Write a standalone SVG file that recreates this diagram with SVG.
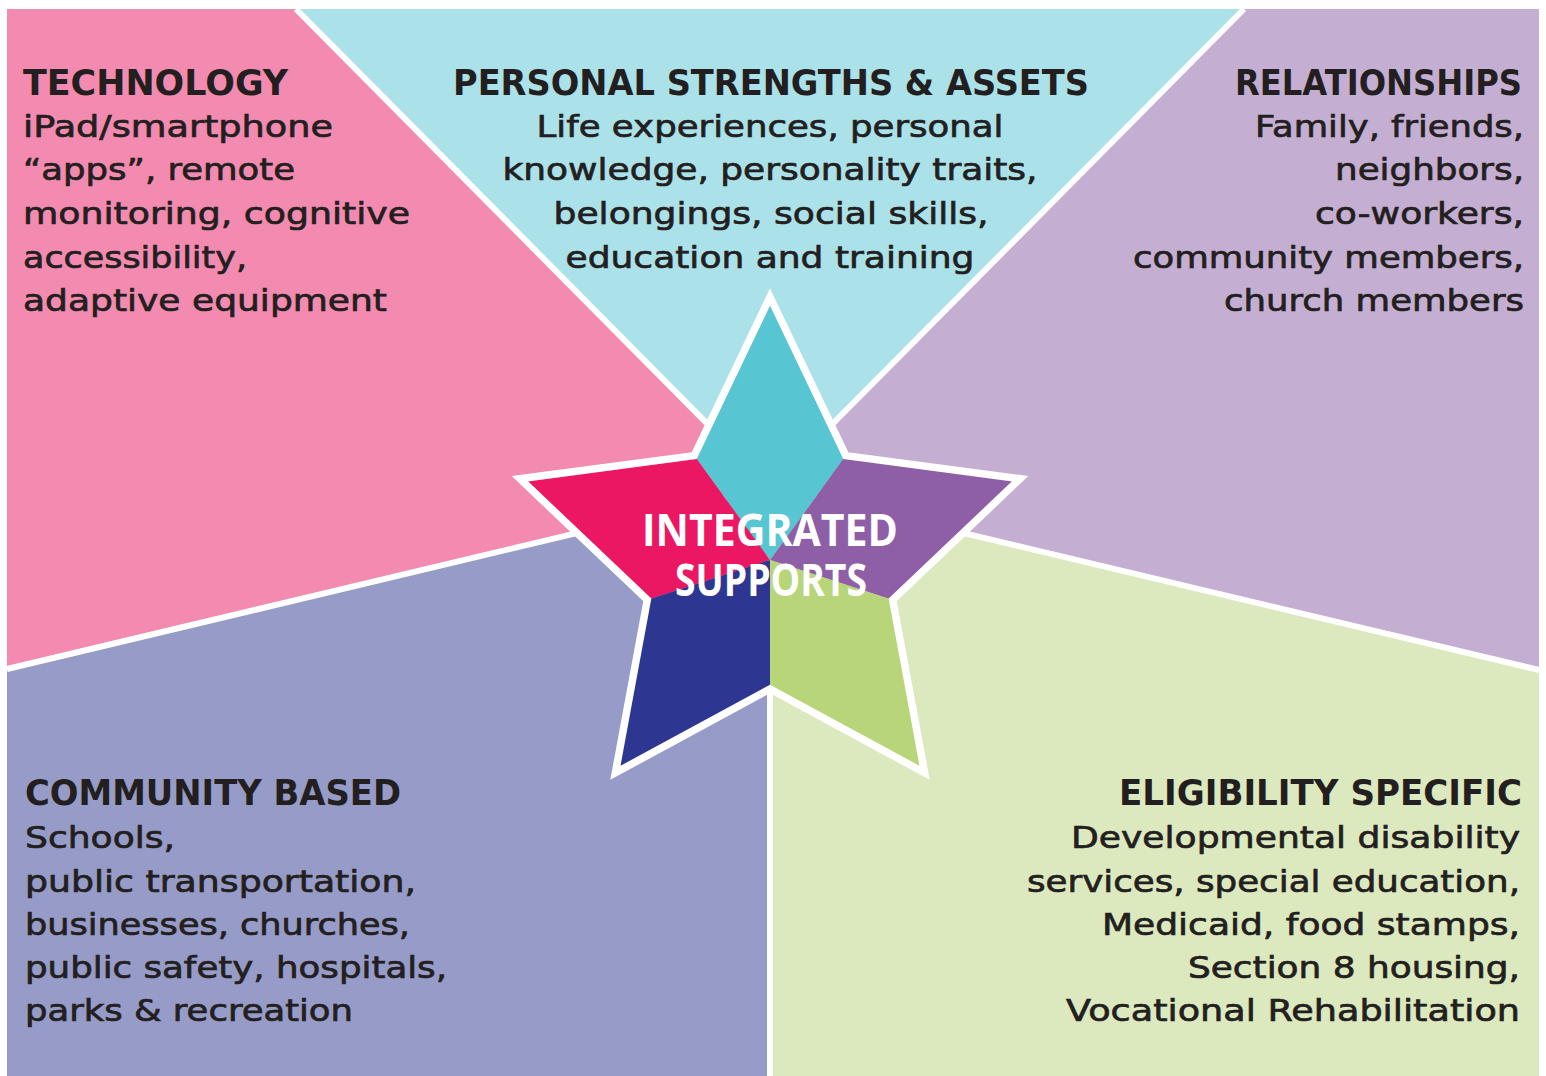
<svg xmlns="http://www.w3.org/2000/svg" width="1546" height="1076" viewBox="0 0 1546 1076">
<style>
.sep{stroke:#FFFFFF;stroke-width:6;fill:none}
.h{font-family:"DejaVu Sans",sans-serif;font-weight:700;font-size:36px;fill:#231F20}
.b{font-family:"DejaVu Sans",sans-serif;font-weight:400;font-size:31px;fill:#231F20;stroke:#231F20;stroke-width:0.7}
.t{font-family:"Open Sans","Liberation Sans",sans-serif;font-weight:700;font-size:45px;fill:#FFFFFF}
</style>
<rect x="0" y="0" width="1546" height="1076" fill="#FFFFFF"/>
<g id="regions">
<polygon id="bg-technology" points="7,9 296,9 770,487 7,669" fill="#F38AAF"/>
<polygon id="bg-personal" points="296,9 1244,9 770,487" fill="#ABE1E9"/>
<polygon id="bg-relationships" points="1244,9 1539,9 1539,670 770,487" fill="#C4AED2"/>
<polygon id="bg-community" points="7,669 770,487 770,1076 7,1076" fill="#969BC7"/>
<polygon id="bg-eligibility" points="770,487 1539,670 1539,1076 770,1076" fill="#DCE8BE"/>
</g>
<g id="connectors">
<line class="sep" x1="296" y1="9" x2="770" y2="487"/>
<line class="sep" x1="1244" y1="9" x2="770" y2="487"/>
<line class="sep" x1="7" y1="669" x2="770" y2="487"/>
<line class="sep" x1="1539" y1="670" x2="770" y2="487"/>
<line class="sep" x1="770" y1="487" x2="770" y2="1076"/>
</g>
<g id="star">
<polygon points="770,297 845.8,455.6 770,560 694.2,455.6" fill="#58C5D3"/>
<polygon points="694.2,455.6 519.9,478.7 647.3,599.9 770,560" fill="#EC1763"/>
<polygon points="845.8,455.6 1020.1,478.7 892.7,599.9 770,560" fill="#8E5FA7"/>
<polygon points="647.3,599.9 615.4,772.8 770,689 770,560" fill="#2D3690"/>
<polygon points="770,560 770,689 924.6,772.8 892.7,599.9" fill="#B8D57A"/>
<polygon points="770,297 845.8,455.6 1020.1,478.7 892.7,599.9 924.6,772.8 770,689 615.4,772.8 647.3,599.9 519.9,478.7 694.2,455.6" fill="none" stroke="#FFFFFF" stroke-width="7.5" stroke-linejoin="miter" stroke-miterlimit="10"/>
</g>
<g id="node-center">
<text class="t" x="770" y="546" text-anchor="middle" textLength="256" lengthAdjust="spacingAndGlyphs">INTEGRATED</text>
<text class="t" x="771" y="596" text-anchor="middle" textLength="192" lengthAdjust="spacingAndGlyphs">SUPPORTS</text>
</g>
<g id="node-technology">
<text class="h" x="23" y="95" textLength="265" lengthAdjust="spacingAndGlyphs">TECHNOLOGY</text>
<text class="b" x="23" y="137" textLength="310" lengthAdjust="spacingAndGlyphs">iPad/smartphone</text>
<text class="b" x="23" y="180" textLength="272" lengthAdjust="spacingAndGlyphs">“apps”, remote</text>
<text class="b" x="23" y="224" textLength="387" lengthAdjust="spacingAndGlyphs">monitoring, cognitive</text>
<text class="b" x="23" y="268" textLength="224" lengthAdjust="spacingAndGlyphs">accessibility,</text>
<text class="b" x="23" y="311" textLength="364" lengthAdjust="spacingAndGlyphs">adaptive equipment</text>
</g>
<g id="node-personal">
<text class="h" x="771" y="95" text-anchor="middle" textLength="636" lengthAdjust="spacingAndGlyphs">PERSONAL STRENGTHS &amp; ASSETS</text>
<text class="b" x="770" y="137" text-anchor="middle" textLength="467" lengthAdjust="spacingAndGlyphs">Life experiences, personal</text>
<text class="b" x="770" y="180" text-anchor="middle" textLength="535" lengthAdjust="spacingAndGlyphs">knowledge, personality traits,</text>
<text class="b" x="771" y="224" text-anchor="middle" textLength="435" lengthAdjust="spacingAndGlyphs">belongings, social skills,</text>
<text class="b" x="770" y="268" text-anchor="middle" textLength="409" lengthAdjust="spacingAndGlyphs">education and training</text>
</g>
<g id="node-relationships">
<text class="h" x="1522" y="95" text-anchor="end" textLength="287" lengthAdjust="spacingAndGlyphs">RELATIONSHIPS</text>
<text class="b" x="1524" y="137" text-anchor="end" textLength="269" lengthAdjust="spacingAndGlyphs">Family, friends,</text>
<text class="b" x="1524" y="180" text-anchor="end" textLength="189" lengthAdjust="spacingAndGlyphs">neighbors,</text>
<text class="b" x="1524" y="224" text-anchor="end" textLength="209" lengthAdjust="spacingAndGlyphs">co-workers,</text>
<text class="b" x="1524" y="268" text-anchor="end" textLength="391" lengthAdjust="spacingAndGlyphs">community members,</text>
<text class="b" x="1524" y="311" text-anchor="end" textLength="300" lengthAdjust="spacingAndGlyphs">church members</text>
</g>
<g id="node-community">
<text class="h" x="25" y="805" textLength="376" lengthAdjust="spacingAndGlyphs">COMMUNITY BASED</text>
<text class="b" x="25" y="848" textLength="150" lengthAdjust="spacingAndGlyphs">Schools,</text>
<text class="b" x="25" y="892" textLength="391" lengthAdjust="spacingAndGlyphs">public transportation,</text>
<text class="b" x="25" y="935" textLength="385" lengthAdjust="spacingAndGlyphs">businesses, churches,</text>
<text class="b" x="25" y="978" textLength="422" lengthAdjust="spacingAndGlyphs">public safety, hospitals,</text>
<text class="b" x="25" y="1021" textLength="328" lengthAdjust="spacingAndGlyphs">parks &amp; recreation</text>
</g>
<g id="node-eligibility">
<text class="h" x="1522" y="805" text-anchor="end" textLength="403" lengthAdjust="spacingAndGlyphs">ELIGIBILITY SPECIFIC</text>
<text class="b" x="1520" y="848" text-anchor="end" textLength="449" lengthAdjust="spacingAndGlyphs">Developmental disability</text>
<text class="b" x="1520" y="892" text-anchor="end" textLength="493" lengthAdjust="spacingAndGlyphs">services, special education,</text>
<text class="b" x="1520" y="935" text-anchor="end" textLength="418" lengthAdjust="spacingAndGlyphs">Medicaid, food stamps,</text>
<text class="b" x="1520" y="978" text-anchor="end" textLength="332" lengthAdjust="spacingAndGlyphs">Section 8 housing,</text>
<text class="b" x="1520" y="1021" text-anchor="end" textLength="454" lengthAdjust="spacingAndGlyphs">Vocational Rehabilitation</text>
</g>
</svg>
